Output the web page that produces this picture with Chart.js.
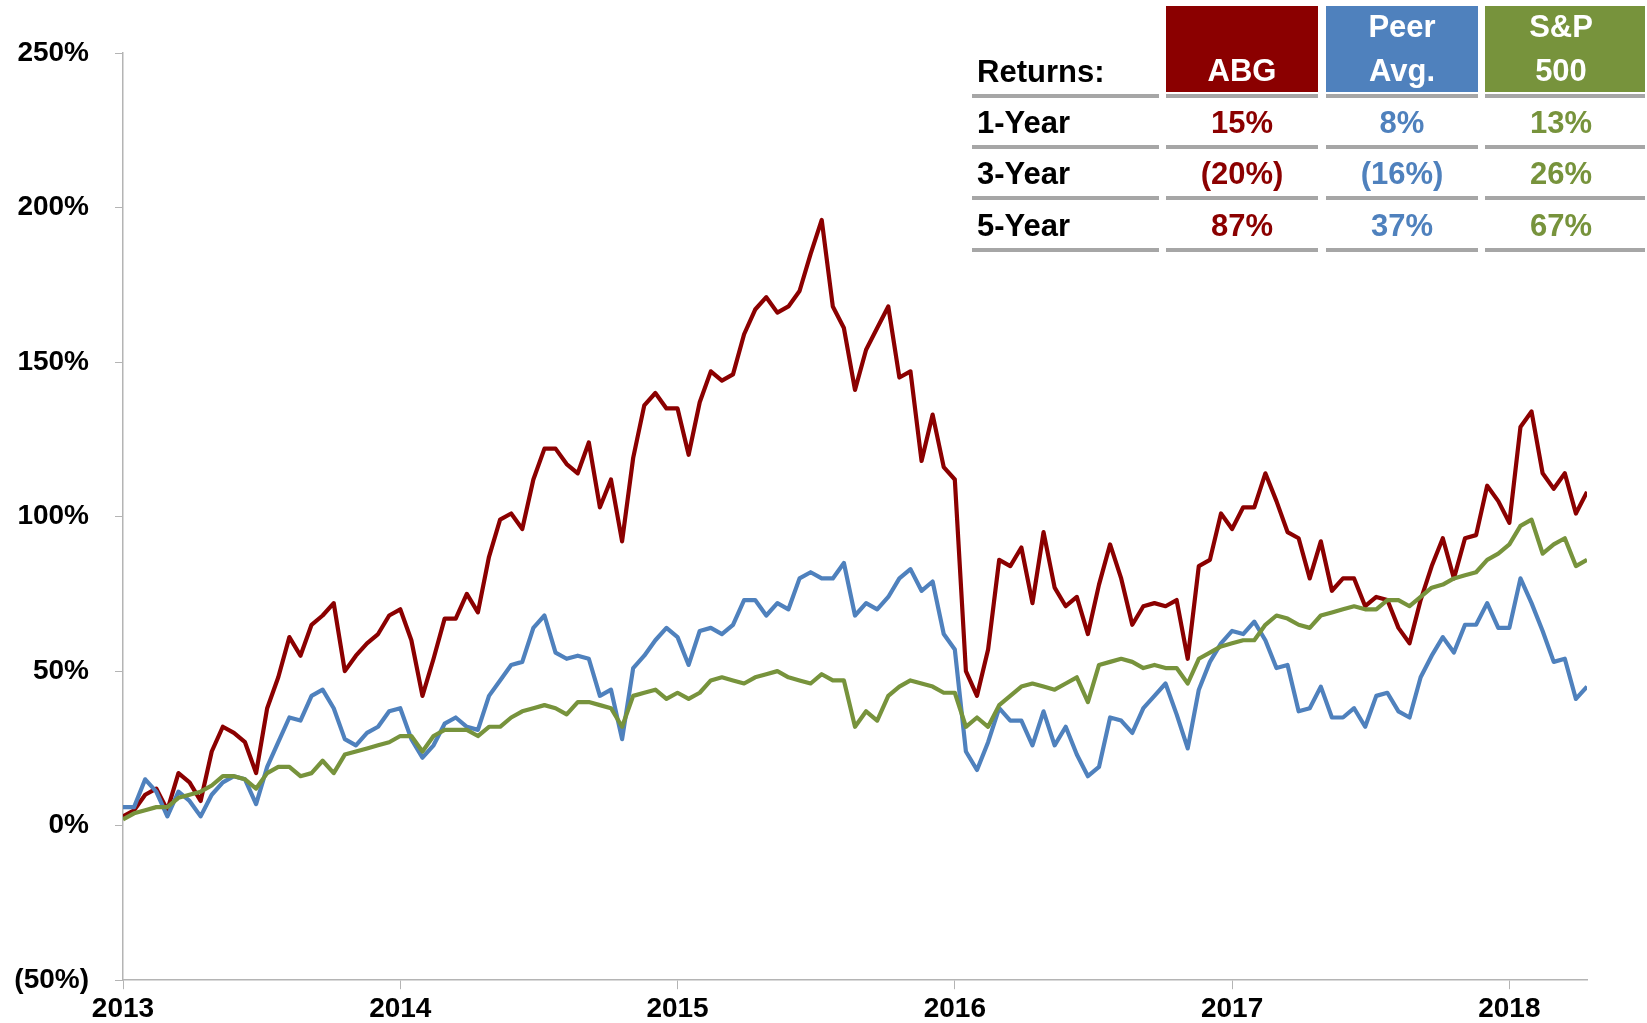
<!DOCTYPE html>
<html>
<head>
<meta charset="utf-8">
<script src="https://cdn.jsdelivr.net/npm/chart.js@4.4.1/dist/chart.umd.min.js"></script>
<style>
  html, body { margin: 0; padding: 0; background: #fff; }
  #wrap { position: relative; width: 1647px; height: 1023px; overflow: hidden; }
  #chart { position: absolute; left: 0; top: 0; }
  .cell {
    position: absolute;
    font-family: 'Liberation Sans', Arial, sans-serif;
    font-weight: bold;
    font-size: 31px;
    line-height: 44px;
    white-space: nowrap;
  }
</style>
</head>
<body>
<div id="wrap">
  <canvas id="chart" width="1647" height="1023"></canvas>
  <div id="table"></div>
</div>
<script>
const ABG_COLOR = '#8B0000';
const PEER_COLOR = '#4F81BD';
const SP_COLOR = '#77933C';

// total return since start of 2013, in %, read roughly every 2 weeks (0.04 yr)
const abg = [
  3, 5, 10, 12, 5, 17, 14, 8, 24, 32,
  30, 27, 17, 38, 48, 61, 55, 65, 68, 72,
  50, 55, 59, 62, 68, 70, 60, 42, 54, 67,
  67, 75, 69, 87, 99, 101, 96, 112, 122, 122,
  117, 114, 124, 103, 112, 92, 119, 136, 140, 135,
  135, 120, 137, 147, 144, 146, 159, 167, 171, 166,
  168, 173, 185, 196, 168, 161, 141, 154, 161, 168,
  145, 147, 118, 133, 116, 112, 50, 42, 57, 86,
  84, 90, 72, 95, 77, 71, 74, 62, 78, 91,
  80, 65, 71, 72, 71, 73, 54, 84, 86, 101,
  96, 103, 103, 114, 105, 95, 93, 80, 92, 76,
  80, 80, 71, 74, 73, 64, 59, 73, 84, 93,
  80, 93, 94, 110, 105, 98, 129, 134, 114, 109,
  114, 101, 108
];
const peer = [
  6, 6, 15, 11, 3, 11, 8, 3, 10, 14,
  16, 15, 7, 19, 27, 35, 34, 42, 44, 38,
  28, 26, 30, 32, 37, 38, 28, 22, 26, 33,
  35, 32, 31, 42, 47, 52, 53, 64, 68, 56,
  54, 55, 54, 42, 44, 28, 51, 55, 60, 64,
  61, 52, 63, 64, 62, 65, 73, 73, 68, 72,
  70, 80, 82, 80, 80, 85, 68, 72, 70, 74,
  80, 83, 76, 79, 62, 57, 24, 18, 27, 38,
  34, 34, 26, 37, 26, 32, 23, 16, 19, 35,
  34, 30, 38, 42, 46, 36, 25, 44, 53, 59,
  63, 62, 66, 60, 51, 52, 37, 38, 45, 35,
  35, 38, 32, 42, 43, 37, 35, 48, 55, 61,
  56, 65, 65, 72, 64, 64, 80, 72, 63, 53,
  54, 41, 45
];
const sp500 = [
  2, 4, 5, 6, 6, 9, 10, 11, 13, 16,
  16, 15, 12, 17, 19, 19, 16, 17, 21, 17,
  23, 24, 25, 26, 27, 29, 29, 24, 29, 31,
  31, 31, 29, 32, 32, 35, 37, 38, 39, 38,
  36, 40, 40, 39, 38, 32, 42, 43, 44, 41,
  43, 41, 43, 47, 48, 47, 46, 48, 49, 50,
  48, 47, 46, 49, 47, 47, 32, 37, 34, 42,
  45, 47, 46, 45, 43, 43, 32, 35, 32, 39,
  42, 45, 46, 45, 44, 46, 48, 40, 52, 53,
  54, 53, 51, 52, 51, 51, 46, 54, 56, 58,
  59, 60, 60, 65, 68, 67, 65, 64, 68, 69,
  70, 71, 70, 70, 73, 73, 71, 74, 77, 78,
  80, 81, 82, 86, 88, 91, 97, 99, 88, 91,
  93, 84, 86
];
// sample dates as decimal years, two weeks apart
const dates = abg.map((_, i) => 2013 + i * 0.04);

const tableHeads = [['Returns:'], ['ABG'], ['Peer', 'Avg.'], ['S&P', '500']];
const periods = ['1-Year', '3-Year', '5-Year'];
const abgReturns = ['15%', '(20%)', '87%'];
const peerReturns = ['8%', '(16%)', '37%'];
const spReturns = ['13%', '26%', '67%'];

function toPoints(vals) {
  return vals.map((v, i) => ({ x: dates[i], y: v }));
}

const tickFont = { family: "'Liberation Sans', Arial, sans-serif", size: 28, weight: 'bold' };
const axisGray = '#B4B4B4';

new Chart(document.getElementById('chart'), {
  type: 'line',
  data: {
    datasets: [
      { label: 'ABG', data: toPoints(abg), borderColor: ABG_COLOR, order: 3 },
      { label: 'Peer Avg.', data: toPoints(peer), borderColor: PEER_COLOR, order: 2 },
      { label: 'S&P 500', data: toPoints(sp500), borderColor: SP_COLOR, order: 1 }
    ]
  },
  options: {
    responsive: false,
    animation: false,
    devicePixelRatio: 1,
    layout: { padding: { top: 53, right: 60, left: 0, bottom: 0 } },
    elements: {
      point: { radius: 0 },
      line: { borderWidth: 4.2, tension: 0, fill: false, borderJoinStyle: 'round' }
    },
    plugins: { legend: { display: false }, tooltip: { enabled: false } },
    scales: {
      x: {
        type: 'linear',
        min: 2013,
        max: 2018.28,
        afterFit: s => { s.height = 42; },
        afterBuildTicks: s => {
          s.ticks = s.ticks.filter(t => Math.abs(t.value - Math.round(t.value)) < 1e-6);
        },
        ticks: {
          stepSize: 1,
          includeBounds: false,
          maxRotation: 0,
          autoSkip: false,
          padding: 3,
          color: '#000',
          font: tickFont,
          callback: v => String(Math.round(v))
        },
        grid: { drawOnChartArea: false, drawTicks: true, tickLength: 9, color: axisGray },
        border: { display: true, color: axisGray, width: 1.5 }
      },
      y: {
        min: -50,
        max: 250,
        afterFit: s => { s.width = 123; },
        ticks: {
          stepSize: 50,
          padding: 26,
          color: '#000',
          font: tickFont,
          callback: v => v < 0 ? '(' + (-v) + '%)' : v + '%'
        },
        grid: { drawOnChartArea: false, drawTicks: true, tickLength: 8, color: axisGray },
        border: { display: true, color: axisGray, width: 1.5 }
      }
    }
  }
});

// returns table in the top right corner
const table = document.getElementById('table');
const colLeft = [972, 1166, 1326, 1485];
const colWidth = [187, 152, 152, 160];
const textWidth = [187, 152, 152, 152];
const colColor = ['#000', ABG_COLOR, PEER_COLOR, SP_COLOR];
const lineTops = [94, 145, 196, 248];
const rowCenters = [123, 174, 226];
const columns = [periods, abgReturns, peerReturns, spReturns];

function addDiv(css, html) {
  const d = document.createElement('div');
  d.className = 'cell';
  Object.assign(d.style, css);
  if (html !== undefined) d.innerHTML = html;
  table.appendChild(d);
  return d;
}

tableHeads.forEach((lines, c) => {
  if (c === 0) {
    addDiv({ left: '977px', top: '50px', height: '44px', color: '#000' }, lines[0]);
    return;
  }
  addDiv({ left: colLeft[c] + 'px', top: '6px', width: colWidth[c] + 'px', height: '86px', background: colColor[c] });
  addDiv({
    left: colLeft[c] + 'px', top: '5px', width: textWidth[c] + 'px', height: '88px',
    display: 'flex', flexDirection: 'column', justifyContent: 'flex-end', alignItems: 'center',
    color: '#fff'
  }, lines.map(t => '<span>' + t.replace('&', '&amp;') + '</span>').join(''));
});

lineTops.forEach(top => {
  colLeft.forEach((left, c) => {
    addDiv({ left: left + 'px', top: top + 'px', width: colWidth[c] + 'px', height: '4px', background: '#A6A6A6' });
  });
});

columns.forEach((vals, c) => {
  vals.forEach((txt, r) => {
    const css = { top: (rowCenters[r] - 22) + 'px', height: '44px', color: colColor[c] };
    if (c === 0) {
      css.left = '977px';
    } else {
      css.left = colLeft[c] + 'px';
      css.width = textWidth[c] + 'px';
      css.textAlign = 'center';
    }
    addDiv(css, txt);
  });
});
</script>
</body>
</html>
